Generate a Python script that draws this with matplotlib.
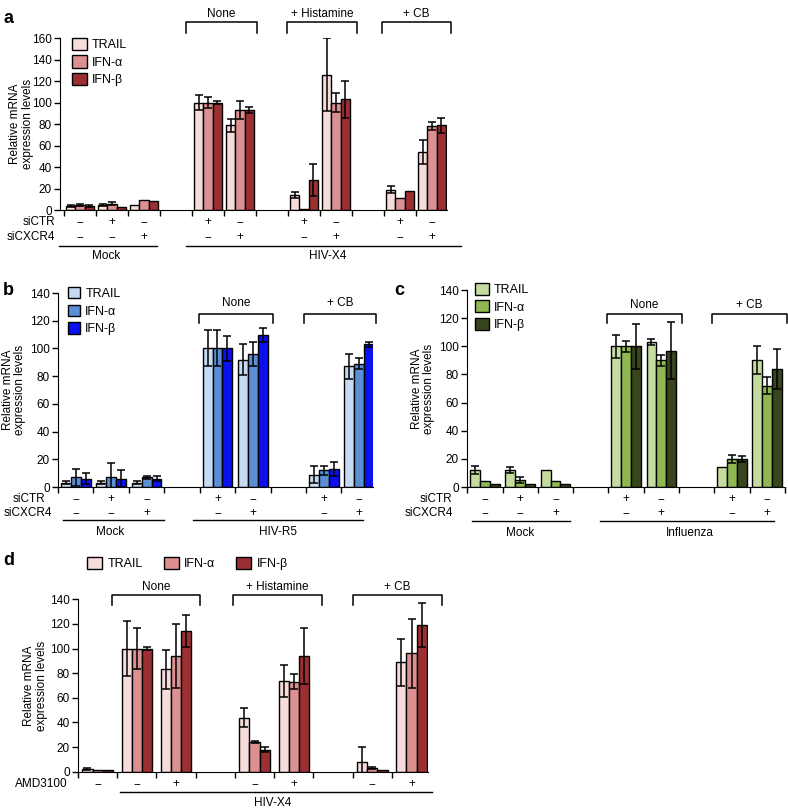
import matplotlib
matplotlib.use('Agg')
import matplotlib.pyplot as plt
from matplotlib.patches import Patch
import numpy as np

plt.rcParams['font.family'] = ['Liberation Sans', 'DejaVu Sans']
plt.rcParams['font.size'] = 8.5

genes = ['TRAIL', 'IFN-α', 'IFN-β']

# panel a (HIV-X4, siRNA)
a_pos = [0, 1, 2, 4, 5, 7, 8, 10, 11]
a_trail = [4, 5, 5, 100, 79, 14, 126, 19, 54]
a_trail_err = [1, 1, 0, 7, 6, 3, 34, 3, 11]
a_ifna = [5, 6, 9, 100, 93, 1, 100, 11, 78]
a_ifna_err = [1, 1, 0, 5, 8, 0, 9, 0, 4]
a_ifnb = [4, 3, 8, 100, 93, 28, 103, 18, 79]
a_ifnb_err = [1, 0, 0, 1, 3, 15, 17, 0, 7]
a_sictr = ['−', '+', '−', '+', '−', '+', '−', '+', '−']
a_sicxcr4 = ['−', '−', '+', '−', '+', '−', '+', '−', '+']

# panel b (HIV-R5)
b_pos = [0, 1, 2, 4, 5, 7, 8]
b_trail = [3, 3, 3, 100, 92, 9, 87]
b_trail_err = [1, 1, 1, 13, 11, 6, 9]
b_ifna = [7, 7, 7, 100, 96, 12, 89]
b_ifna_err = [6, 10, 1, 13, 9, 3, 4]
b_ifnb = [6, 6, 6, 100, 110, 13, 103]
b_ifnb_err = [4, 6, 2, 9, 5, 5, 2]

# panel c (Influenza)
c_pos = [0, 1, 2, 4, 5, 7, 8]
c_trail = [12, 12, 12, 100, 103, 14, 90]
c_trail_err = [3, 2, 0, 8, 2, 0, 10]
c_ifna = [4, 5, 4, 100, 90, 20, 72]
c_ifna_err = [0, 2, 0, 4, 4, 3, 6]
c_ifnb = [2, 2, 2, 100, 97, 20, 84]
c_ifnb_err = [0, 0, 0, 16, 20, 2, 14]
bc_sictr = ['−', '+', '−', '+', '−', '+', '−']
bc_sicxcr4 = ['−', '−', '+', '−', '+', '−', '+']

# panel d (AMD3100)
d_pos = [0, 1, 2, 4, 5, 7, 8]
d_trail = [2, 100, 83, 44, 74, 8, 89]
d_trail_err = [1, 22, 16, 8, 13, 12, 19]
d_ifna = [1, 100, 94, 24, 73, 3, 96]
d_ifna_err = [0, 17, 26, 1, 6, 1, 28]
d_ifnb = [1, 100, 114, 18, 94, 1, 119]
d_ifnb_err = [0, 1, 13, 2, 23, 0, 18]
d_amd = ['−', '−', '+', '−', '+', '−', '+']

reds = ['#f7dcdc', '#dc9090', '#9c2f32']
blues = ['#c6daf2', '#5a8fd6', '#0a10ee']
greens = ['#c5dca0', '#8fb752', '#37461c']


def draw_bars(ax, pos, series, errs, colors, width):
    pos = np.array(pos, dtype=float)
    for k in range(3):
        x = pos + (k - 1) * width
        ax.bar(x, series[k], width, color=colors[k], edgecolor='black',
               linewidth=1.0, zorder=2)
        e = np.array(errs[k])
        m = e > 0
        ax.errorbar(x[m], np.array(series[k])[m], yerr=e[m], fmt='none',
                    ecolor='black', elinewidth=1.1, capsize=3, capthick=1.1,
                    zorder=3)


def style_axis(ax, xlim, ymax, step, label_x):
    ax.set_xlim(*xlim)
    ax.set_ylim(0, ymax)
    ax.set_yticks(np.arange(0, ymax + 1, step))
    ax.set_xticks(np.arange(-0.5, xlim[1] + 0.01, 1.0))
    ax.set_xticklabels([])
    ax.spines['top'].set_visible(False)
    ax.spines['right'].set_visible(False)
    ax.tick_params(axis='both', direction='out', length=4, width=1,
                   labelsize=8.5, pad=2)
    ax.set_ylabel('Relative mRNA\nexpression levels', fontsize=8.5,
                  linespacing=1.05)
    ax.yaxis.set_label_coords(label_x, 0.5)


def bracket(ax, x0, x1, top, bottom, label_y, label):
    ax.plot([x0, x0, x1, x1], [bottom, top, top, bottom], color='black',
            lw=1.1, clip_on=False)
    ax.text((x0 + x1) / 2, label_y, label, ha='center', va='center')


def sign_row(ax, pos, signs, y):
    tr = ax.get_xaxis_transform()
    for p, s in zip(pos, signs):
        ax.text(p, y, s, ha='center', va='center', transform=tr)


def group_line(ax, x0, x1, y, label, label_x, label_y):
    tr = ax.get_xaxis_transform()
    ax.plot([x0, x1], [y, y], color='black', lw=1.0, transform=tr, clip_on=False)
    ax.text(label_x, label_y, label, ha='center', va='center', transform=tr)


def add_legend(ax, colors, anchor, **kw):
    ax.legend([Patch(facecolor=c, edgecolor='black') for c in colors], genes,
              loc='upper left', bbox_to_anchor=anchor,
              bbox_transform=fig.transFigure, frameon=False, fontsize=9,
              handletextpad=0.4, borderaxespad=0, borderpad=0, **kw)


fig = plt.figure(figsize=(7.88, 8.09), dpi=100)

# ---- a ----
ax = fig.add_axes([0.0761, 0.7404, 0.4911, 0.2126])
draw_bars(ax, a_pos, [a_trail, a_ifna, a_ifnb],
          [a_trail_err, a_ifna_err, a_ifnb_err], reds, 0.29)
style_axis(ax, (-0.625, 11.47), 160, 20, -0.068)
bracket(ax, 3.31, 5.53, 175, 165, 182, 'None')
bracket(ax, 6.47, 8.66, 175, 165, 182, '+ Histamine')
bracket(ax, 9.44, 11.6, 175, 165, 182, '+ CB')
sign_row(ax, a_pos, a_sictr, -0.072)
sign_row(ax, a_pos, a_sicxcr4, -0.157)
ax.text(-0.013, -0.072, 'siCTR', ha='right', va='center', transform=ax.transAxes)
ax.text(-0.013, -0.157, 'siCXCR4', ha='right', va='center', transform=ax.transAxes)
group_line(ax, -0.66, 2.4, -0.209, 'Mock', 0.81, -0.267)
group_line(ax, 3.31, 11.9, -0.209, 'HIV-X4', 7.75, -0.267)
add_legend(ax, reds, (0.092, 0.953), handlelength=1.15, handleheight=1.15,
           labelspacing=0.32)
fig.text(0.004, 0.988, 'a', fontsize=13, fontweight='bold', va='top')

# ---- b ----
ax = fig.add_axes([0.0736, 0.398, 0.3998, 0.2398])
draw_bars(ax, b_pos, [b_trail, b_ifna, b_ifnb],
          [b_trail_err, b_ifna_err, b_ifnb_err], blues, 0.28)
style_axis(ax, (-0.36, 8.39), 140, 20, -0.10)
bracket(ax, 3.47, 5.58, 124.8, 118.3, 132.8, 'None')
bracket(ax, 6.44, 8.47, 124.8, 118.3, 132.8, '+ CB')
sign_row(ax, b_pos, bc_sictr, -0.06)
sign_row(ax, b_pos, bc_sicxcr4, -0.134)
ax.text(-0.04, -0.06, 'siCTR', ha='right', va='center', transform=ax.transAxes)
ax.text(-0.018, -0.134, 'siCXCR4', ha='right', va='center', transform=ax.transAxes)
group_line(ax, -0.36, 2.5, -0.170, 'Mock', 0.97, -0.232)
group_line(ax, 3.3, 8.1, -0.170, 'HIV-R5', 5.7, -0.232)
add_legend(ax, blues, (0.086, 0.645), handlelength=1.0, handleheight=1.0,
           labelspacing=0.38)
fig.text(0.004, 0.652, 'b', fontsize=13, fontweight='bold', va='top')

# ---- c ----
ax = fig.add_axes([0.5926, 0.398, 0.4034, 0.2435])
draw_bars(ax, c_pos, [c_trail, c_ifna, c_ifnb],
          [c_trail_err, c_ifna_err, c_ifnb_err], greens, 0.28)
style_axis(ax, (-0.51, 8.5), 140, 20, -0.10)
bracket(ax, 3.46, 5.58, 123, 116.6, 129.4, 'None')
bracket(ax, 6.43, 8.55, 123, 116.6, 129.4, '+ CB')
sign_row(ax, c_pos, bc_sictr, -0.06)
sign_row(ax, c_pos, bc_sicxcr4, -0.134)
ax.text(-0.045, -0.06, 'siCTR', ha='right', va='center', transform=ax.transAxes)
ax.text(-0.045, -0.134, 'siCXCR4', ha='right', va='center', transform=ax.transAxes)
group_line(ax, -0.37, 2.4, -0.170, 'Mock', 1.0, -0.232)
group_line(ax, 3.26, 8.2, -0.170, 'Influenza', 5.8, -0.232)
add_legend(ax, greens, (0.603, 0.650), handlelength=1.1, handleheight=1.1,
           labelspacing=0.32)
fig.text(0.50, 0.652, 'c', fontsize=13, fontweight='bold', va='top')

# ---- d ----
ax = fig.add_axes([0.099, 0.0461, 0.4442, 0.2131])
draw_bars(ax, d_pos, [d_trail, d_ifna, d_ifnb],
          [d_trail_err, d_ifna_err, d_ifnb_err], reds, 0.26)
style_axis(ax, (-0.5, 8.42), 140, 20, -0.086)
bracket(ax, 0.36, 2.6, 143.5, 135.4, 150, 'None')
bracket(ax, 3.44, 5.71, 143.5, 135.4, 150, '+ Histamine')
bracket(ax, 6.5, 8.78, 143.5, 135.4, 150, '+ CB')
sign_row(ax, d_pos, d_amd, -0.072)
ax.text(-0.03, -0.072, 'AMD3100', ha='right', va='center', transform=ax.transAxes)
group_line(ax, 0.56, 8.52, -0.115, 'HIV-X4', 4.46, -0.18)
add_legend(ax, reds, (0.111, 0.312), ncol=3, handlelength=1.2,
           handleheight=1.2, columnspacing=1.7)
fig.text(0.004, 0.318, 'd', fontsize=13, fontweight='bold', va='top')

plt.savefig('out.png', dpi=100)
